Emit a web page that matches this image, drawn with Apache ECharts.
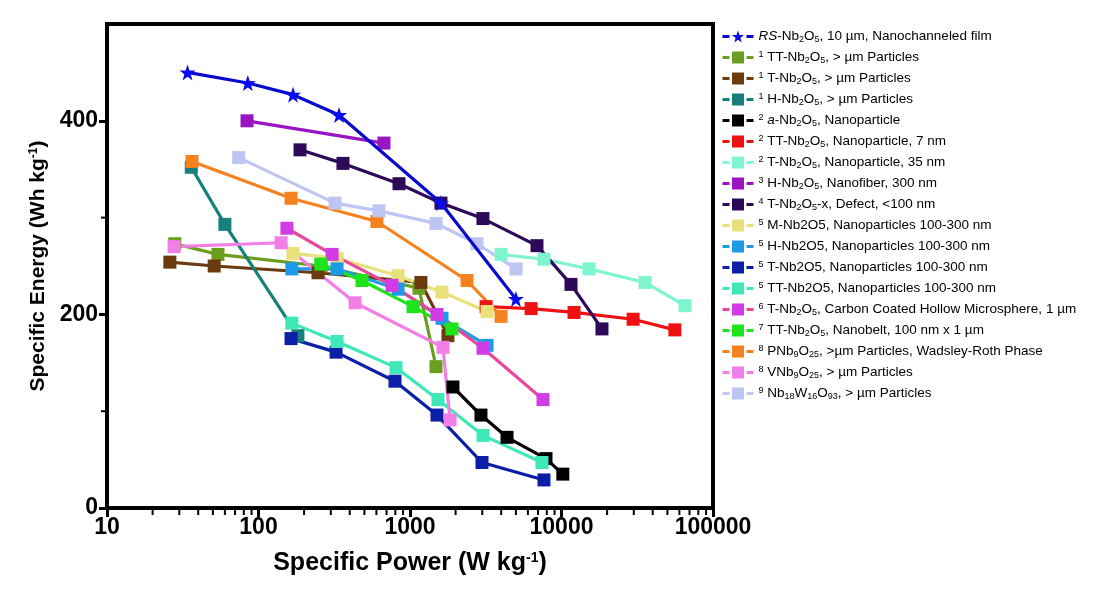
<!DOCTYPE html>
<html><head><meta charset="utf-8">
<script src="https://cdn.jsdelivr.net/npm/echarts@6/dist/echarts.min.js"></script>
<style>html,body{margin:0;padding:0;background:#fff}#c{width:1098px;height:597px}</style>
</head><body><div id="c"></div>
<script>
// ---- tick values ----
const xTicks = [10, 100, 1000, 10000, 100000];
const yTicks = [0, 200, 400];
const xMinorTicks = [20,30,40,50,60,70,80,90,200,300,400,500,600,700,800,900,2000,3000,4000,5000,6000,7000,8000,9000,20000,30000,40000,50000,60000,70000,80000,90000];
const yMinorTicks = [100, 300];

// ---- series data: [specific power (W/kg), specific energy (Wh/kg)] ----
const rsNb2O5      = [[34,450],[85,439],[169,427],[340,406],[1600,315],[5000,216]];
const ttMicron     = [[28,273],[54,262],[259,250],[1146,227],[1485,146]];
const tMicron      = [[26,254],[51,250],[247,243],[1180,233],[1780,178]];
const hMicron      = [[36,352],[60,293],[182,178]];
const aNano        = [[1920,125],[2940,96],[4370,73],[7900,51],[10200,35]];
const ttNano7      = [[3180,208],[6300,206],[12100,202],[29700,195],[56000,184]];
const tNano35      = [[3990,262],[7660,257],[15200,247],[35600,233],[65300,209]];
const hFiber       = [[84,400],[673,377]];
const tDefect      = [[188,370],[361,356],[846,335],[1600,315],[3030,299],[6890,271],[11550,231],[18500,185]];
const mNano        = [[169,263],[330,258],[834,240],[1626,223],[3224,203]];
const hNano        = [[166,247],[330,247],[834,226],[1626,196],[3224,168]];
const tNano        = [[164,175],[325,161],[796,131],[1507,96],[2986,47],[7660,29]];
const ttNano       = [[166,191],[330,172],[808,145],[1531,112],[3034,75],[7430,47]];
const tCarbon      = [[154,289],[306,262],[761,230],[1507,200],[3034,165],[7550,112]];
const ttBelt       = [[258,252],[482,235],[1047,208],[1893,185]];
const pNb9O25      = [[36.4,358],[164,320],[605,296],[2378,235],[3990,198]];
const vNb9O25      = [[27.7,270],[141,274],[434,212],[1651,166],[1838,91]];
const nb18W16O93   = [[74,362],[320,315],[624,307],[1485,294],[2770,273],[5010,247]];

// ---- names & legend labels ----
const seriesNames = ['RS','TT1','T1','H1','a2','TT2','T2','H3','T4','M5','H5','T5','TT5','T6','TT7','P8','V8','W9'];
const legendLabels = [
  '{i|RS}-Nb{sub|2}O{sub|5}, 10 µm, Nanochanneled film',
  '{sup|1} TT-Nb{sub|2}O{sub|5}, > µm Particles',
  '{sup|1} T-Nb{sub|2}O{sub|5}, > µm Particles',
  '{sup|1} H-Nb{sub|2}O{sub|5}, > µm Particles',
  '{sup|2} {i|a}-Nb{sub|2}O{sub|5}, Nanoparticle',
  '{sup|2} TT-Nb{sub|2}O{sub|5}, Nanoparticle, 7 nm',
  '{sup|2} T-Nb{sub|2}O{sub|5}, Nanoparticle, 35 nm',
  '{sup|3} H-Nb{sub|2}O{sub|5}, Nanofiber, 300 nm',
  '{sup|4} T-Nb{sub|2}O{sub|5}-x, Defect, <100 nm',
  '{sup|5} M-Nb2O5, Nanoparticles 100-300 nm',
  '{sup|5} H-Nb2O5, Nanoparticles 100-300 nm',
  '{sup|5} T-Nb2O5, Nanoparticles 100-300 nm',
  '{sup|5} TT-Nb2O5, Nanoparticles 100-300 nm',
  '{sup|6} T-Nb{sub|2}O{sub|5}, Carbon Coated Hollow Microsphere, 1 µm',
  '{sup|7} TT-Nb{sub|2}O{sub|5}, Nanobelt, 100 nm x 1 µm',
  '{sup|8} PNb{sub|9}O{sub|25}, >µm Particles, Wadsley-Roth Phase',
  '{sup|8} VNb{sub|9}O{sub|25}, > µm Particles',
  '{sup|9} Nb{sub|18}W{sub|16}O{sub|93}, > µm Particles'
];
const seriesData = [rsNb2O5, ttMicron, tMicron, hMicron, aNano, ttNano7, tNano35, hFiber, tDefect, mNano, hNano, tNano, ttNano, tCarbon, ttBelt, pNb9O25, vNb9O25, nb18W16O93];
const markerColors = ['#0A0AF0','#6A9E1E','#6B3A0E','#17807A','#000000','#EE1111','#7FF5CF','#9A14C4','#2C0A58','#E8E07A','#1E9BE8','#0A1EA8','#3EE8B8','#D23CE6','#1EE41E','#F5821F','#F27FE6','#BEC4F4'];
const lineColors   = ['#0A0ACC','#6A9E1E','#6B3A0E','#17807A','#000000','#EE1111','#7FF5CF','#9A14C4','#2C0A58','#E8E07A','#1E9BE8','#0A1EA8','#3EE8B8','#E8489A','#1EE41E','#F5821F','#F27FE6','#BEC4F4'];

const STAR = 'path://M0,-10 L2.35,-3.24 L9.51,-3.09 L3.8,1.24 L5.88,8.09 L0,4 L-5.88,8.09 L-3.8,1.24 L-9.51,-3.09 L-2.35,-3.24 Z';
const FF = 'Liberation Sans';

const series = seriesData.map((d, i) => ({
  name: seriesNames[i],
  type: 'line',
  data: d,
  symbol: i === 0 ? STAR : 'rect',
  symbolSize: i === 0 ? 16 : 13,
  itemStyle: { color: markerColors[i] },
  lineStyle: { color: lineColors[i], width: 3.2 },
  z: i === 0 ? 3 : 2,
  animation: false
}));

function tickSeries(vals, axis) {
  return {
    type: 'custom', name: 'minor-' + axis, silent: true, clip: false, animation: false, z: 10,
    data: vals.map(v => axis === 'x' ? [v, 0] : [10, v]),
    renderItem: (params, api) => {
      const p = api.coord([api.value(0), api.value(1)]);
      const shape = axis === 'x'
        ? { x1: p[0], y1: p[1] + 2, x2: p[0], y2: p[1] + 7 }
        : { x1: p[0] - 2, y1: p[1], x2: p[0] - 6, y2: p[1] };
      return { type: 'line', shape, style: { stroke: '#000', lineWidth: 2 } };
    }
  };
}
series.push(tickSeries(xMinorTicks, 'x'));
series.push(tickSeries(yMinorTicks, 'y'));

const chart = echarts.init(document.getElementById('c'), null, { renderer: 'canvas' });
chart.setOption({
  backgroundColor: '#fff',
  animation: false,
  grid: { left: 107, right: 385, top: 24, bottom: 89, show: true, borderColor: '#000', borderWidth: 4, backgroundColor: 'transparent' },
  xAxis: {
    type: 'log', logBase: 10, min: 10, max: 100000,
    name: 'Specific Power (W kg{sup|-1})', nameLocation: 'middle', nameGap: 43,
    nameTextStyle: { fontFamily: FF, fontWeight: 'bold', fontSize: 25, color: '#000',
      rich: { sup: { fontFamily: FF, fontWeight: 'bold', fontSize: 14, verticalAlign: 'top', lineHeight: 12, color: '#000' } } },
    axisLine: { show: true, lineStyle: { color: '#000', width: 4 } },
    axisTick: { show: true, inside: false, length: 9, lineStyle: { color: '#000', width: 3 }, customValues: xTicks },
    axisLabel: { customValues: xTicks, fontFamily: FF, fontWeight: 'bold', fontSize: 23, color: '#000', margin: 8,
      formatter: v => String(Math.round(v)) },
    splitLine: { show: false }, minorTick: { show: false }, minorSplitLine: { show: false }
  },
  yAxis: {
    type: 'value', min: 0, max: 500,
    name: 'Specific Energy (Wh kg{sup|-1})', nameLocation: 'middle', nameGap: 58, nameRotate: 90,
    nameTextStyle: { fontFamily: FF, fontWeight: 'bold', fontSize: 21, color: '#000',
      rich: { sup: { fontFamily: FF, fontWeight: 'bold', fontSize: 12, verticalAlign: 'top', lineHeight: 10, color: '#000' } } },
    axisLine: { show: true, lineStyle: { color: '#000', width: 4 } },
    axisTick: { show: true, inside: false, length: 8, lineStyle: { color: '#000', width: 3 }, customValues: yTicks },
    axisLabel: { customValues: yTicks, fontFamily: FF, fontWeight: 'bold', fontSize: 23, color: '#000', margin: 9 },
    splitLine: { show: false }
  },
  legend: {
    orient: 'vertical', left: 716, top: 24, itemWidth: 31, itemHeight: 15, itemGap: 6,
    selectedMode: false, data: seriesNames,
    lineStyle: { type: [7, 17], width: 3 },
    formatter: name => legendLabels[seriesNames.indexOf(name)],
    textStyle: {
      fontFamily: FF, fontSize: 13.5, color: '#000', lineHeight: 15,
      rich: {
        sup: { fontFamily: FF, fontSize: 9, lineHeight: 9, verticalAlign: 'top', color: '#000' },
        sub: { fontFamily: FF, fontSize: 9, lineHeight: 9, verticalAlign: 'bottom', color: '#000' },
        i: { fontFamily: FF, fontSize: 13.5, fontStyle: 'italic', lineHeight: 15, color: '#000' }
      }
    }
  },
  series
});
</script></body></html>
